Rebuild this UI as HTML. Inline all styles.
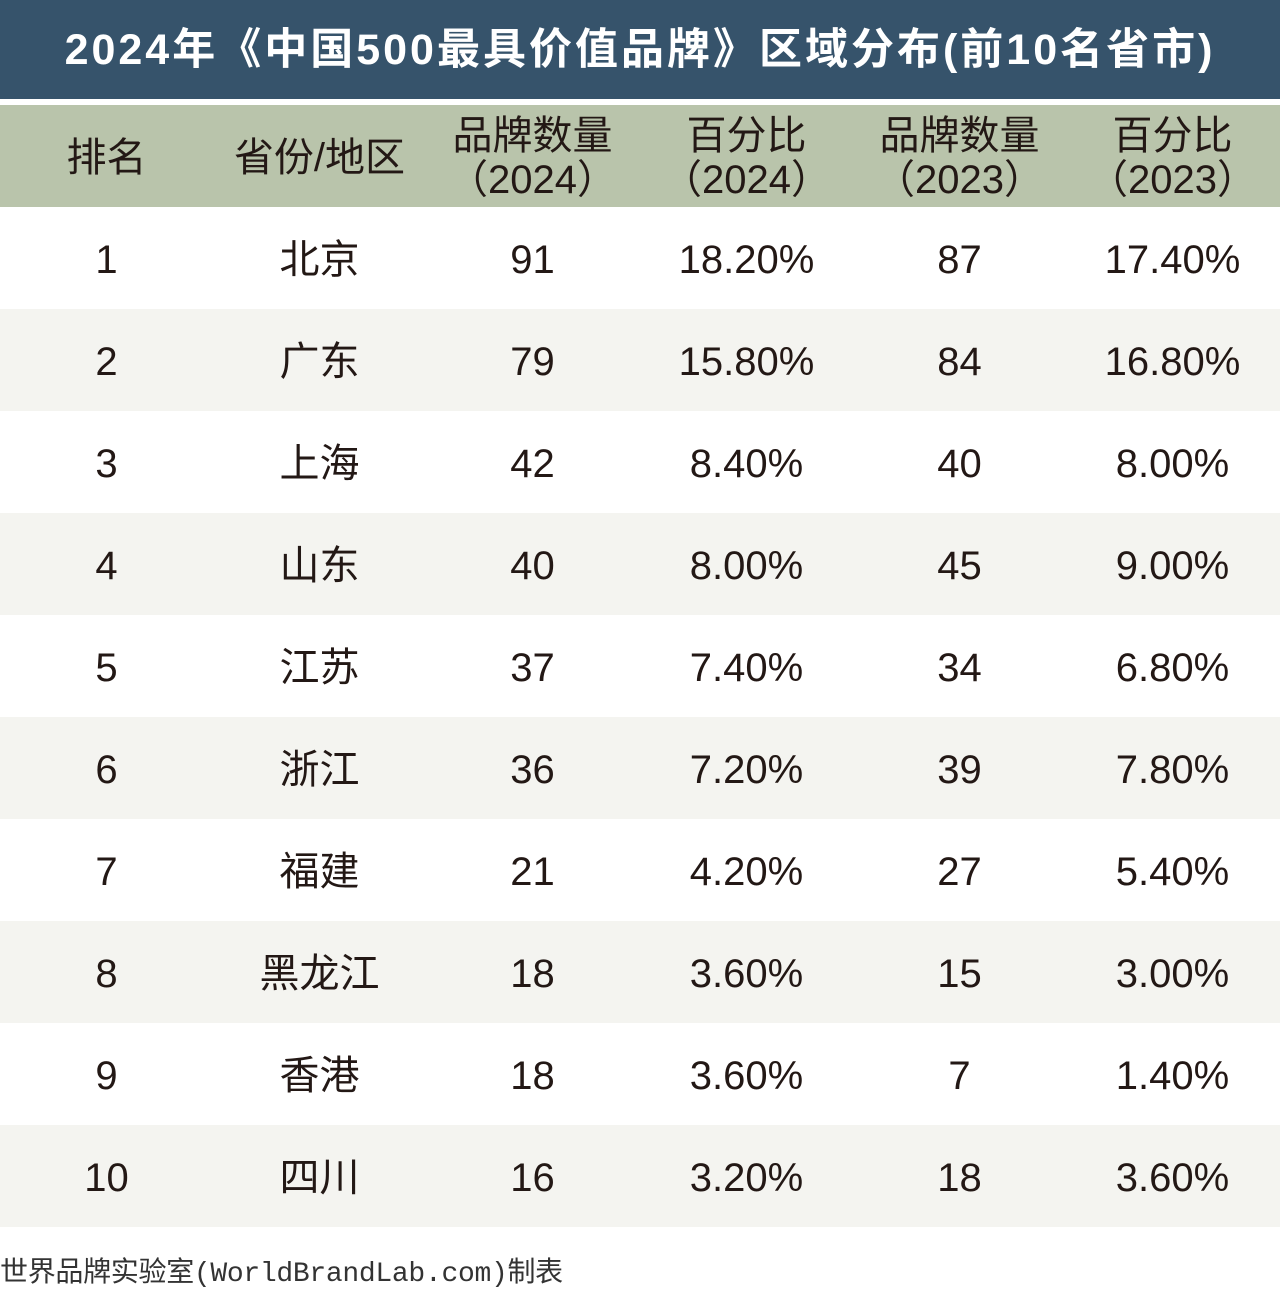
<!DOCTYPE html>
<html><head><meta charset="utf-8"><style>
body{margin:0;width:1280px;height:1284px;background:#fff;position:relative;overflow:hidden;font-family:"Liberation Sans","Noto Sans CJK SC",sans-serif;color:#231815}
.title{position:absolute;left:0;top:0;width:1280px;height:99px;background:#36536b;color:#fff;font-weight:bold;font-size:43px;text-align:center;line-height:100px;letter-spacing:3px}
.hdr{position:absolute;left:0;top:105px;width:1280px;height:102px;background:#b9c4ab}
.row{position:absolute;left:0;width:1280px;height:102px}
.c{position:absolute;width:213px;text-align:center;font-size:40px;top:2px;height:102px;display:flex;align-items:center;justify-content:center;line-height:44px}
.foot{position:absolute;left:0;top:1250px;font-size:28px;letter-spacing:-0.3px;font-family:"Liberation Mono","Noto Sans CJK SC",monospace;color:#333}
</style></head><body>
<div class="title">2024年《中国500最具价值品牌》区域分布(前10名省市)</div>
<div class="hdr">
<div class="c" style="left:0">排名</div>
<div class="c" style="left:213px">省份/地区</div>
<div class="c" style="left:426px">品牌数量<br>（2024）</div>
<div class="c" style="left:640px">百分比<br>（2024）</div>
<div class="c" style="left:853px">品牌数量<br>（2023）</div>
<div class="c" style="left:1066px">百分比<br>（2023）</div>
</div>
<div id="rows"></div>
<script>
var d=[["1","北京","91","18.20%","87","17.40%"],["2","广东","79","15.80%","84","16.80%"],["3","上海","42","8.40%","40","8.00%"],["4","山东","40","8.00%","45","9.00%"],["5","江苏","37","7.40%","34","6.80%"],["6","浙江","36","7.20%","39","7.80%"],["7","福建","21","4.20%","27","5.40%"],["8","黑龙江","18","3.60%","15","3.00%"],["9","香港","18","3.60%","7","1.40%"],["10","四川","16","3.20%","18","3.60%"]];
var h="",L=[0,213,426,640,853,1066];
d.forEach(function(r,i){h+='<div class="row" style="top:'+(207+i*102)+'px;background:'+(i%2?'#f4f4f0':'#fff')+'">';r.forEach(function(v,j){h+='<div class="c" style="left:'+L[j]+'px">'+v+'</div>'});h+='</div>'});
document.getElementById("rows").innerHTML=h;
</script>
<div class="foot">世界品牌实验室(WorldBrandLab.com)制表</div>
</body></html>
